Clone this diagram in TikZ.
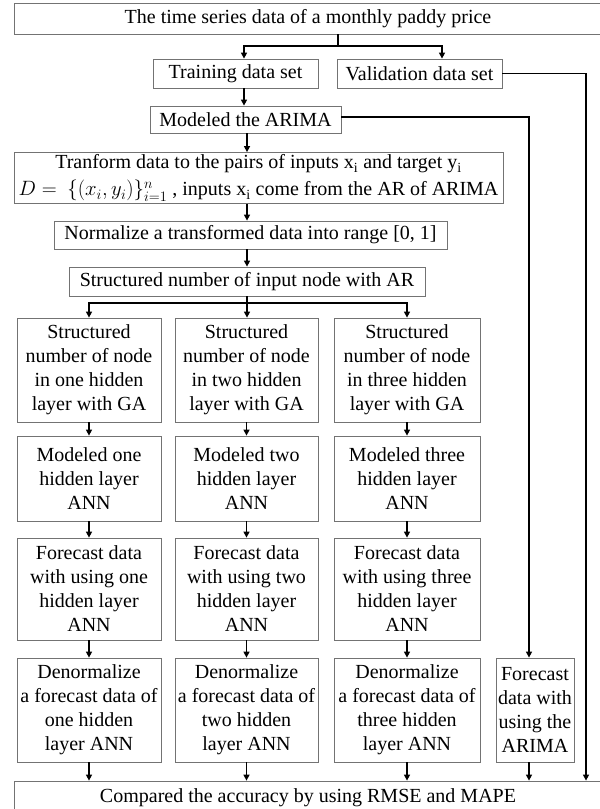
\documentclass[tikz,border=0pt]{standalone}
\usepackage{fontspec}
\setmainfont{Liberation Serif}
\usetikzlibrary{arrows.meta}
\tikzset{
  box/.style={draw=black!55, line width=0.8pt, inner sep=0pt, align=center,
    font=\fontsize{20}{24}\selectfont},
  conn/.style={draw=black, line width=1.4pt},
  arr/.style={conn, -{Triangle[length=6pt,width=6pt]}},
}
\begin{document}
\begin{tikzpicture}[x=1pt,y=-1pt]
\clip (0,0) rectangle (600,809);
\fill[white] (0,0) rectangle (600,809);
% top part
\node[box, minimum width=588pt, minimum height=31pt] (top) at (308,18.5) {The time series data of a monthly paddy price};
\node[box, minimum width=165pt, minimum height=29pt] (train) at (235.5,73.5) {Training data set};
\node[box, minimum width=165pt, minimum height=29pt] (valid) at (419.5,73.5) {Validation data set};
\node[box, minimum width=191pt, minimum height=27pt] (arima) at (245.5,119.5) {Modeled the ARIMA};
\node[box, minimum width=489pt, minimum height=51pt, font=\fontsize{20}{25}\selectfont] (trans) at (258.5,178)
  {Tranform data to the pairs of inputs x\textsubscript{i} and target y\textsubscript{i}\\[2pt]
   $D =\ \{(x_i, y_i)\}_{i=1}^{n}$ , inputs x\textsubscript{i} come from the AR of ARIMA};
\node[box, minimum width=393pt, minimum height=28pt] (norm) at (250.5,235) {Normalize a transformed data into range [0, 1]};
\node[box, minimum width=356pt, minimum height=29pt] (inp) at (247,281.5) {Structured number of input node with AR};
% columns
\node[box, minimum width=144pt, minimum height=104pt] (c1ga) at (89,370) {Structured\\number of node\\in one hidden\\layer with GA};
\node[box, minimum width=143pt, minimum height=104pt] (c2ga) at (246.5,370) {Structured\\number of node\\in two hidden\\layer with GA};
\node[box, minimum width=146pt, minimum height=104pt] (c3ga) at (407,370) {Structured\\number of node\\in three hidden\\layer with GA};
\node[box, minimum width=144pt, minimum height=85pt] (c1mod) at (89,478.5) {Modeled one\\hidden layer\\ANN};
\node[box, minimum width=143pt, minimum height=85pt] (c2mod) at (246.5,478.5) {Modeled two\\hidden layer\\ANN};
\node[box, minimum width=146pt, minimum height=85pt] (c3mod) at (407,478.5) {Modeled three\\hidden layer\\ANN};
\node[box, minimum width=144pt, minimum height=102pt] (c1fc) at (89,589) {Forecast data\\with using one\\hidden layer\\ANN};
\node[box, minimum width=143pt, minimum height=102pt] (c2fc) at (246.5,589) {Forecast data\\with using two\\hidden layer\\ANN};
\node[box, minimum width=146pt, minimum height=102pt] (c3fc) at (407,589) {Forecast data\\with using three\\hidden layer\\ANN};
\node[box, minimum width=144pt, minimum height=104pt] (c1dn) at (89,710) {Denormalize\\a forecast data of\\one hidden\\layer ANN};
\node[box, minimum width=143pt, minimum height=104pt] (c2dn) at (246.5,710) {Denormalize\\a forecast data of\\two hidden\\layer ANN};
\node[box, minimum width=146pt, minimum height=104pt] (c3dn) at (407,710) {Denormalize\\a forecast data of\\three hidden\\layer ANN};
\node[box, minimum width=78pt, minimum height=104pt] (arimaF) at (535,710) {Forecast\\data with\\using the\\ARIMA};
\node[box, minimum width=588pt, minimum height=34pt] (comp) at (308,798) {Compared the accuracy by using RMSE and MAPE};
% coordinates
\coordinate (sp) at (338,46);
\coordinate (spL) at (244,46);
\coordinate (spR) at (442,46);
\coordinate (tk) at (247,0);
\coordinate (br) at (247,303);
\coordinate (vr) at (586,73.5);
\coordinate (ar) at (529,117);
% connectors
\draw[conn] (top.south -| sp) -- (sp);
\draw[arr] (sp) -| (train.north -| spL);
\draw[arr] (sp) -| (valid.north -| spR);
\draw[arr] (train.south -| spL) -- (arima.north -| spL);
\draw[arr] (arima.south -| tk) -- (trans.north -| tk);
\draw[arr] (trans.south -| tk) -- (norm.north -| tk);
\draw[arr] (norm.south -| tk) -- (inp.north -| tk);
\draw[conn] (inp.south -| br) -- (br);
\draw[arr] (br) -| (c1ga.north);
\draw[arr] (br) -| (c3ga.north);
\draw[arr] (br) -- (c2ga.north -| br);
\foreach \c in {c1,c2,c3}{
  \draw[arr] (\c ga.south) -- (\c mod.north);
  \draw[arr] (\c mod.south) -- (\c fc.north);
  \draw[arr] (\c fc.south) -- (\c dn.north);
  \draw[arr] (\c dn.south) -- (comp.north -| \c dn.south);
}
\draw[arr] (valid.east) -- (vr) -- (comp.north -| vr);
\draw[arr] (arima.east |- ar) -- (ar) -- (arimaF.north -| ar);
\draw[arr] (arimaF.south -| ar) -- (comp.north -| ar);
\end{tikzpicture}
\end{document}
